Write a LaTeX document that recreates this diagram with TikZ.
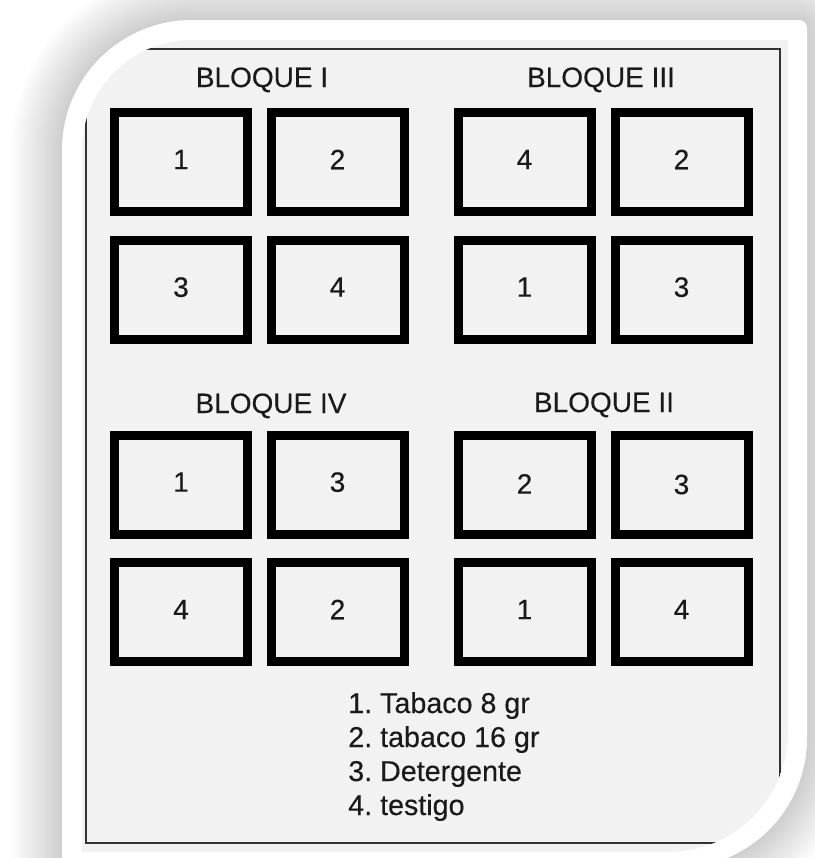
\documentclass[tikz,border=0pt]{standalone}
\usepackage{fontspec}
\setmainfont{Liberation Sans}[FakeBold=0.3]
\definecolor{panelgrey}{HTML}{F2F2F2}
\definecolor{inkc}{HTML}{1A1A1A}
\newcommand\framepth{(62,868) -- (62,150) .. controls (62,78.2) and (120.2,20) .. (192,20) -- (799,20) .. controls (803.4,20) and (807,23.6) .. (807,28) -- (807,738) .. controls (807,809.8) and (748.8,868) .. (677,868) -- cycle}
\newcommand\panelpth{(82,852) -- (82,150) .. controls (82,89.25) and (131.25,40) .. (192,40) -- (788,40) -- (788,732) .. controls (788,798.3) and (734.3,852) .. (668,852) -- cycle}
\frenchspacing
\begin{document}
\begin{tikzpicture}[x=0.75pt,y=-0.75pt,
  plotbox/.style={draw=black, line width=6.75pt, minimum width=99.75pt, minimum height=74.25pt, inner sep=0pt, font=\fontsize{21pt}{25pt}\selectfont, text=inkc},
  blocklabel/.style={anchor=base, inner sep=0pt, font=\fontsize{21pt}{25pt}\selectfont, text=inkc},
  legendline/.style={anchor=base west, inner sep=0pt, font=\fontsize{21.5pt}{25pt}\selectfont, text=inkc}]
\useasboundingbox (0,0) rectangle (815,858);
% drop shadow of the white frame
\foreach \w in {1,...,24}{
  \pgfmathsetmacro\lw{\w*3.2}
  \draw[black, opacity=0.0065, line width=\lw pt] \framepth;
}
\fill[white] \framepth;
\fill[panelgrey] \panelpth;
\begin{scope}
  \clip \panelpth;
  \draw[line width=1.5pt, black!80] (86,49) rectangle (780,843);
\end{scope}
% block labels
\node[blocklabel] (lblI)   at (262,87)  {BLOQUE I};
\node[blocklabel] (lblIII) at (601,87)  {BLOQUE III};
\node[blocklabel] (lblIV)  at (271,413) {BLOQUE IV};
\node[blocklabel] (lblII)  at (604,412) {BLOQUE II};
% BLOQUE I
\node[plotbox] (bIa) at (181,162)   {\raisebox{3.75pt}{1}};
\node[plotbox] (bIb) at (337.5,162) {\raisebox{3.75pt}{2}};
\node[plotbox] (bIc) at (181,289.5) {\raisebox{3.75pt}{3}};
\node[plotbox] (bId) at (337.5,289.5) {\raisebox{3.75pt}{4}};
% BLOQUE III
\node[plotbox] (bIIIa) at (524.5,162)   {\raisebox{3.75pt}{4}};
\node[plotbox] (bIIIb) at (681.5,162)   {\raisebox{3.75pt}{2}};
\node[plotbox] (bIIIc) at (524.5,289.5) {\raisebox{3.75pt}{1}};
\node[plotbox] (bIIId) at (681.5,289.5) {\raisebox{3.75pt}{3}};
% BLOQUE IV
\node[plotbox] (bIVa) at (181,484.5)   {\raisebox{3.75pt}{1}};
\node[plotbox] (bIVb) at (337.5,484.5) {\raisebox{3.75pt}{3}};
\node[plotbox] (bIVc) at (181,612)     {\raisebox{3.75pt}{4}};
\node[plotbox] (bIVd) at (337.5,612)   {\raisebox{3.75pt}{2}};
% BLOQUE II
\node[plotbox] (bIIa) at (524.5,484.5) {\raisebox{1pt}{2}};
\node[plotbox] (bIIb) at (681.5,484.5) {3};
\node[plotbox] (bIIc) at (524.5,612)   {\raisebox{3.75pt}{1}};
\node[plotbox] (bIId) at (681.5,612)   {\raisebox{3.75pt}{4}};
% legend
\node[legendline] (leg1) at (348,713) {1. Tabaco 8 gr};
\node[legendline] (leg2) at (348,747) {2. tabaco 16 gr};
\node[legendline] (leg3) at (348,781) {3. Detergente};
\node[legendline] (leg4) at (348,815) {4. testigo};
\end{tikzpicture}
\end{document}
